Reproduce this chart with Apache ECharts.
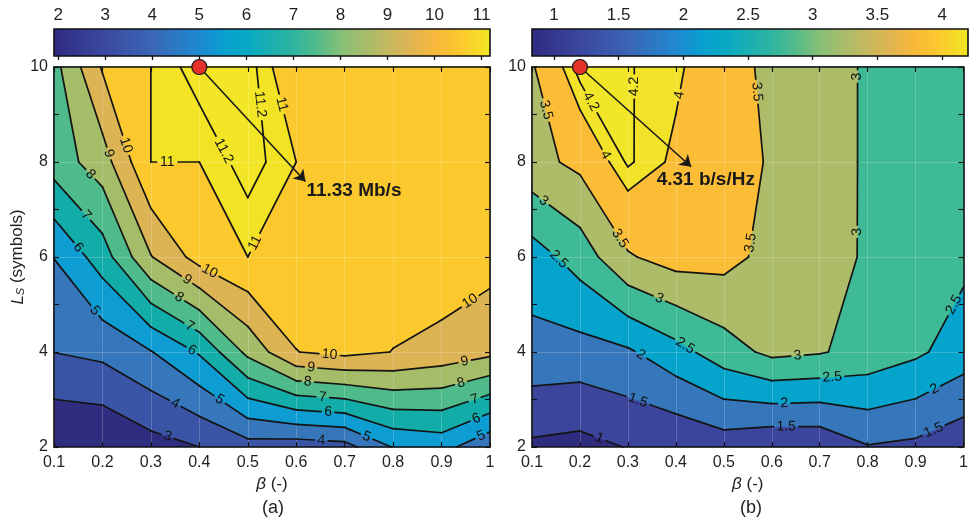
<!DOCTYPE html>
<html><head><meta charset="utf-8">
<script src="https://cdn.jsdelivr.net/npm/echarts@6/dist/echarts.min.js"></script>
<style>html,body{margin:0;padding:0;background:#fff}#c{width:971px;height:528px}</style>
</head><body><div id="c"></div>
<script>
// ---------------- data ----------------
const betaValues = [0.1,0.2,0.3,0.4,0.5,0.6,0.7,0.8,0.9,1.0];
const lsValues = [2,4,6,8,10];
// rows: L_S = 2,4,6,8,10 ; columns: beta = 0.1 .. 1
const rateGrid = [
  [1.98,2.02,2.6,3.0,3.6,3.45,3.63,5.05,5.36,4.19],
  [4.01,4.24,4.95,6.1,8.26,9.98,10.27,9.98,9.62,9.25],
  [5.02,6.5,8.95,10.4,11.0,10.6,10.6,10.5,10.75,10.37],
  [7.45,8.53,11.0,11.0,11.32,11.0,10.7,10.6,10.6,10.5],
  [7.66,10.1,11.0,11.33,11.31,10.7,10.6,10.5,10.5,10.4]
];
const seGrid = [
  [0.91,0.835,1.02,1.06,1.22,1.06,1.08,1.47,1.39,1.15],
  [1.83,1.81,1.93,2.32,2.77,3.12,3.04,2.82,2.59,2.26],
  [2.27,2.72,3.45,3.71,3.67,3.34,3.25,2.93,2.85,2.61],
  [3.34,3.62,4.24,3.93,3.78,3.44,3.30,2.92,2.9,2.8],
  [3.45,4.31,4.22,4.07,3.68,3.40,3.30,2.92,2.9,2.85]
];
const rateLevels = [3,4,5,6,7,8,9,10,11,11.2];
const seLevels = [1,1.5,2,2.5,3,3.5,4,4.2];
const rateTicks = [2,3,4,5,6,7,8,9,10,11];
const seTicks = [1,1.5,2,2.5,3,3.5,4];
const rateColorRange = [1.91,11.18];
const seColorRange = [0.83,4.2];
// contour label anchors [beta, L_S, level]
const rateLabels = [
  [0.245,8.34,10],[0.21,8.17,9],[0.169,7.68,8],[0.162,6.84,7],[0.148,6.18,6],[0.183,4.86,5],
  [0.334,7.99,11],[0.452,8.24,11.2],[0.530,9.22,11.2],[0.573,9.22,11],[0.517,6.29,11],
  [0.421,5.69,10],[0.372,5.48,9],[0.355,5.10,8],[0.372,4.40,7],[0.376,3.88,6],[0.438,2.94,5],[0.348,2.87,4],[0.334,2.21,3],
  [0.669,3.95,10],[0.631,3.71,9],[0.624,3.39,8],[0.655,3.08,7],[0.666,2.77,6],[0.745,2.21,5],[0.652,2.17,4],
  [0.959,5.07,10],[0.948,3.78,9],[0.941,3.32,8],[0.969,2.98,7],[0.972,2.59,6],[0.983,2.21,5]
];
const seLabels = [
  [0.127,9.09,3.5],[0.223,9.27,4.2],[0.316,9.59,4.2],[0.406,9.41,4],[0.254,8.15,4],[0.123,7.16,3],[0.285,6.4,3.5],
  [0.57,9.48,3.5],[0.779,9.8,3],[0.779,6.53,3],[0.544,6.32,3.5],
  [0.151,5.9,2.5],[0.364,5.09,3],[0.416,4.08,2.5],[0.327,3.94,2],[0.32,2.95,1.5],[0.24,2.16,1],
  [0.654,3.94,3],[0.726,3.48,2.5],[0.626,2.92,2],[0.63,2.44,1.5],[0.981,4.99,2.5],[0.94,3.2,2],[0.936,2.39,1.5]
];
const rateMaxPoint = [0.4,10];
const seMaxPoint = [0.2,10];
const rateArrow = [[0.4,10],[0.619,7.59]];
const seArrow = [[0.2,10],[0.432,7.9]];
const rateNote = [0.621,7.39,'11.33 Mb/s'];
const seNote = [0.36,7.62,'4.31 b/s/Hz'];

// ---------------- styles ----------------
const rateBandColors = ['#2E2D7F','#3B55A6','#3676BB','#0E9DD2','#12ADA8','#4FBB8B','#A5BC69','#DCB454','#FBC92E','#F2E425','#F2E627'];
const seBandColors = ['#2F2B7F','#3B459B','#3676BB','#05A4CC','#3FBA96','#ADBC68','#FCBD36','#F2E328','#F2E628'];
const cmapStops = [[0,'#2E2A80'],[0.118,'#3B49A0'],[0.225,'#3A66B5'],[0.333,'#1F89D0'],[0.387,'#0A9ED0'],[0.441,'#05A9C4'],
  [0.549,'#2FB5A0'],[0.603,'#52BB8B'],[0.657,'#85BF77'],[0.765,'#C6B95F'],[0.819,'#E0B452'],[0.873,'#F8B83B'],
  [0.927,'#FCC72E'],[0.981,'#F4DF27'],[1,'#F0E826']];
const FONT = '"Liberation Sans", Arial, Helvetica, sans-serif';
const TXT = '#1f1f1f';
const LABEL_FS = 14;

// ---------------- contour helpers ----------------
function corners(Z,i,j){
  return [[betaValues[i],lsValues[j],Z[j][i]],[betaValues[i+1],lsValues[j],Z[j][i+1]],
          [betaValues[i+1],lsValues[j+1],Z[j+1][i+1]],[betaValues[i],lsValues[j+1],Z[j+1][i]]];
}
function cellPolys(Z,L){
  const out=[];
  for(let j=0;j<lsValues.length-1;j++)for(let i=0;i<betaValues.length-1;i++){
    const c=corners(Z,i,j),pts=[];
    for(let k=0;k<4;k++){
      const a=c[k],b=c[(k+1)%4],ai=a[2]>=L,bi=b[2]>=L;
      if(ai)pts.push([a[0],a[1]]);
      if(ai!==bi){const t=(L-a[2])/(b[2]-a[2]);pts.push([a[0]+t*(b[0]-a[0]),a[1]+t*(b[1]-a[1])]);}
    }
    if(pts.length>=3)out.push(pts);
  }
  return out;
}
function cellSegs(Z,L){
  const segs=[];
  for(let j=0;j<lsValues.length-1;j++)for(let i=0;i<betaValues.length-1;i++){
    const c=corners(Z,i,j),pts=[];
    for(let k=0;k<4;k++){
      const a=c[k],b=c[(k+1)%4],ai=a[2]>=L,bi=b[2]>=L;
      if(ai!==bi){const t=(L-a[2])/(b[2]-a[2]);pts.push([a[0]+t*(b[0]-a[0]),a[1]+t*(b[1]-a[1])]);}else pts.push(null);
    }
    const idx=[0,1,2,3].filter(k=>pts[k]);
    if(idx.length===2)segs.push([pts[idx[0]],pts[idx[1]]]);
    else if(idx.length===4){
      const cen=(c[0][2]+c[1][2]+c[2][2]+c[3][2])/4;
      if((cen>=L)===(c[0][2]>=L)){segs.push([pts[0],pts[1]]);segs.push([pts[2],pts[3]]);}
      else{segs.push([pts[3],pts[0]]);segs.push([pts[1],pts[2]]);}
    }
  }
  return segs.filter(s=>Math.abs(s[0][0]-s[1][0])>1e-9||Math.abs(s[0][1]-s[1][1])>1e-9);
}
function cut(p,q,holes){
  let iv=[[0,1]];const dx=q[0]-p[0],dy=q[1]-p[1],A=dx*dx+dy*dy;
  if(A<1e-9)return [];
  holes.forEach(h=>{
    const fx=p[0]-h.x,fy=p[1]-h.y,B=2*(fx*dx+fy*dy),C=fx*fx+fy*fy-h.r*h.r,D=B*B-4*A*C;
    if(D<=0)return;const s=Math.sqrt(D),t1=(-B-s)/(2*A),t2=(-B+s)/(2*A),n=[];
    iv.forEach(([a,b])=>{if(t2<=a||t1>=b){n.push([a,b]);return;}if(t1>a)n.push([a,t1]);if(t2<b)n.push([t2,b]);});
    iv=n;
  });
  return iv.map(([a,b])=>[[p[0]+a*dx,p[1]+a*dy],[p[0]+b*dx,p[1]+b*dy]]);
}
function textW(s,fs){let w=0;for(const ch of s)w+=(ch==='.'?0.278:0.556)*fs;return w;}

function fillRender(Z,levels,colors){
  return function(params,api){
    const P=p=>api.coord(p);
    const x0=betaValues[0],x1=betaValues[betaValues.length-1],y0=lsValues[0],y1=lsValues[lsValues.length-1];
    const ch=[{type:'polygon',silent:true,shape:{points:[[x0,y0],[x1,y0],[x1,y1],[x0,y1]].map(P)},style:{fill:colors[0]}}];
    levels.forEach((L,k)=>{
      cellPolys(Z,L).forEach(poly=>ch.push({type:'polygon',silent:true,shape:{points:poly.map(P)},
        style:{fill:colors[k+1],stroke:colors[k+1],lineWidth:0.7,lineJoin:'round'}}));
    });
    return {type:'group',children:ch};
  };
}
function lineRender(Z,levels,labels){
  return function(params,api){
    const P=p=>api.coord(p),ch=[];
    const segs=levels.map(L=>cellSegs(Z,L).map(s=>[P(s[0]),P(s[1])]));
    const holes=levels.map(()=>[]);
    labels.forEach(([x,y,L])=>{
      const k=levels.indexOf(L);if(k<0)return;
      const c=P([x,y]);let best=null,bd=Infinity;
      segs[k].forEach(([p,q])=>{
        const dx=q[0]-p[0],dy=q[1]-p[1],l2=dx*dx+dy*dy;if(l2<1e-6)return;
        let t=((c[0]-p[0])*dx+(c[1]-p[1])*dy)/l2;t=Math.max(0,Math.min(1,t));
        const px=p[0]+t*dx,py=p[1]+t*dy,d=Math.hypot(c[0]-px,c[1]-py);
        if(d<bd){bd=d;best={x:px,y:py,a:Math.atan2(-dy,dx)};}
      });
      if(!best)return;
      let a=best.a;if(a>Math.PI/2)a-=Math.PI;if(a<-Math.PI/2)a+=Math.PI;
      const txt=String(L),w=textW(txt,LABEL_FS);
      holes[k].push({x:best.x,y:best.y,r:w/2+3});
      ch.push({type:'text',silent:true,x:best.x,y:best.y,rotation:a,z2:5,
        style:{text:txt,x:0,y:0,align:'center',verticalAlign:'middle',fontSize:LABEL_FS,fontFamily:FONT,fill:'#111'}});
    });
    segs.forEach((list,k)=>list.forEach(([p,q])=>{
      cut(p,q,holes[k]).forEach(([a,b])=>ch.push({type:'line',silent:true,z2:1,
        shape:{x1:a[0],y1:a[1],x2:b[0],y2:b[1]},style:{stroke:'#141414',lineWidth:1.7,lineCap:'round'}}));
    }));
    return {type:'group',children:ch};
  };
}
function barRender(range){
  return function(params,api){
    const p0=api.coord([range[0],0]),p1=api.coord([range[1],1]);
    return {type:'rect',silent:true,shape:{x:p0[0],y:p1[1],width:p1[0]-p0[0],height:p0[1]-p1[1]},
      style:{fill:new echarts.graphic.LinearGradient(0,0,1,0,cmapStops.map(([o,c])=>({offset:o,color:c}))),stroke:'#111',lineWidth:1.6}};
  };
}
function noteRender(note){
  return function(params,api){
    const c=api.coord([note[0],note[1]]);
    return {type:'text',silent:true,x:c[0],y:c[1],style:{text:note[2],align:'left',verticalAlign:'middle',
      fontSize:19,fontWeight:'bold',fontFamily:FONT,fill:'#1a1a1a'}};
  };
}

// ---------------- axes ----------------
const gridW=436,gridH=380,gridTop=67;
const grids=[
  {left:54,top:gridTop,width:gridW,height:gridH},
  {left:532,top:gridTop,width:gridW,height:gridH},
  {left:54,top:29,width:gridW,height:27},
  {left:532,top:29,width:gridW,height:27}
];
const lineSt={color:'#111',width:1.6};
const tickSt={color:'#111',width:1.1};
const splitSt={show:true,lineStyle:{color:'rgba(255,255,255,0.2)',width:1}};
function xMain(g){return {type:'value',gridIndex:g,min:0.1,max:1,interval:0.1,position:'bottom',z:2,
  axisLine:{show:true,onZero:false,lineStyle:lineSt},axisTick:{show:true,inside:true,length:5,lineStyle:tickSt},
  axisLabel:{show:true,margin:8,fontSize:16,color:TXT,fontFamily:FONT},splitLine:splitSt,
  name:'{i|β} (-)',nameLocation:'middle',nameGap:23,
  nameTextStyle:{fontSize:17,color:TXT,fontFamily:FONT,rich:{i:{fontStyle:'italic',fontSize:17,fontFamily:FONT,color:TXT}}}};}
function xTop(g){return {type:'value',gridIndex:g,min:0.1,max:1,interval:0.1,position:'top',z:2,
  axisLine:{show:true,onZero:false,lineStyle:lineSt},axisTick:{show:true,inside:true,length:5,lineStyle:tickSt},
  axisLabel:{show:false},splitLine:{show:false}};}
function yMain(g,named){const o={type:'value',gridIndex:g,min:2,max:10,interval:2,position:'left',z:2,
  axisLine:{show:true,onZero:false,lineStyle:lineSt},axisTick:{show:true,inside:true,length:5,lineStyle:tickSt},
  minorTick:{show:true,splitNumber:2,length:5,lineStyle:tickSt},
  axisLabel:{show:true,margin:6,fontSize:16,color:TXT,fontFamily:FONT},splitLine:splitSt};
  if(named){o.name='{i|L}{s|S} (symbols)';o.nameLocation='middle';o.nameGap=21;o.nameRotate=90;
    o.nameTextStyle={fontSize:17,color:TXT,fontFamily:FONT,rich:{i:{fontStyle:'italic',fontSize:17,fontFamily:FONT,color:TXT},
      s:{fontStyle:'italic',fontSize:11,fontFamily:FONT,color:TXT,verticalAlign:'bottom',lineHeight:10}}};}
  return o;}
function yRight(g){return {type:'value',gridIndex:g,min:2,max:10,interval:2,position:'right',z:2,
  axisLine:{show:true,onZero:false,lineStyle:lineSt},axisTick:{show:true,inside:true,length:5,lineStyle:tickSt},
  minorTick:{show:true,splitNumber:2,length:5,lineStyle:tickSt},axisLabel:{show:false},splitLine:{show:false}};}
function xBar(g,range,ticks){return {type:'value',gridIndex:g,min:range[0],max:range[1],position:'top',z:10,
  axisLine:{show:false},axisTick:{show:true,inside:true,length:4,customValues:ticks,lineStyle:{color:'#111',width:1.3}},
  axisLabel:{show:true,customValues:ticks,margin:5,fontSize:17,color:TXT,fontFamily:FONT},splitLine:{show:false}};}
function yBar(g){return {type:'value',gridIndex:g,min:0,max:1,show:false};}

const option={
  animation:false,
  grid:grids,
  xAxis:[xMain(0),xTop(0),xMain(1),xTop(1),xBar(2,rateColorRange,rateTicks),xBar(3,seColorRange,seTicks)],
  yAxis:[yMain(0,true),yRight(0),yMain(1,false),yRight(1),yBar(2),yBar(3)],
  graphic:[
    {type:'text',left:262,top:499,style:{text:'(a)',fontSize:18,fontFamily:FONT,fill:TXT}},
    {type:'text',left:740,top:499,style:{text:'(b)',fontSize:18,fontFamily:FONT,fill:TXT}}
  ],
  series:[
    {type:'custom',xAxisIndex:0,yAxisIndex:0,z:1,silent:true,clip:false,data:[[0.5,6]],renderItem:fillRender(rateGrid,rateLevels,rateBandColors)},
    {type:'custom',xAxisIndex:2,yAxisIndex:2,z:1,silent:true,clip:false,data:[[0.5,6]],renderItem:fillRender(seGrid,seLevels,seBandColors)},
    {type:'custom',xAxisIndex:0,yAxisIndex:0,z:3,silent:true,clip:false,data:[[0.5,6]],renderItem:lineRender(rateGrid,rateLevels,rateLabels)},
    {type:'custom',xAxisIndex:2,yAxisIndex:2,z:3,silent:true,clip:false,data:[[0.5,6]],renderItem:lineRender(seGrid,seLevels,seLabels)},
    {type:'custom',xAxisIndex:4,yAxisIndex:4,z:1,silent:true,data:[[5,0.5]],renderItem:barRender(rateColorRange)},
    {type:'custom',xAxisIndex:5,yAxisIndex:5,z:1,silent:true,data:[[2,0.5]],renderItem:barRender(seColorRange)},
    {type:'lines',coordinateSystem:'cartesian2d',xAxisIndex:0,yAxisIndex:0,z:6,silent:true,
      symbol:['none','arrow'],symbolSize:[1,11],lineStyle:{color:'#1a1a1a',width:1.6,opacity:1},data:[{coords:rateArrow}]},
    {type:'lines',coordinateSystem:'cartesian2d',xAxisIndex:2,yAxisIndex:2,z:6,silent:true,
      symbol:['none','arrow'],symbolSize:[1,11],lineStyle:{color:'#1a1a1a',width:1.6,opacity:1},data:[{coords:seArrow}]},
    {type:'scatter',xAxisIndex:0,yAxisIndex:0,z:8,silent:true,clip:false,symbolSize:15,
      itemStyle:{color:'#E4322B',borderColor:'#151515',borderWidth:1.2,opacity:1},data:[rateMaxPoint]},
    {type:'scatter',xAxisIndex:2,yAxisIndex:2,z:8,silent:true,clip:false,symbolSize:15,
      itemStyle:{color:'#E4322B',borderColor:'#151515',borderWidth:1.2,opacity:1},data:[seMaxPoint]},
    {type:'custom',xAxisIndex:0,yAxisIndex:0,z:7,silent:true,clip:false,data:[[0.5,6]],renderItem:noteRender(rateNote)},
    {type:'custom',xAxisIndex:2,yAxisIndex:2,z:7,silent:true,clip:false,data:[[0.5,6]],renderItem:noteRender(seNote)}
  ]
};
const chart=echarts.init(document.getElementById('c'),null,{renderer:'canvas'});
chart.setOption(option);
</script></body></html>
